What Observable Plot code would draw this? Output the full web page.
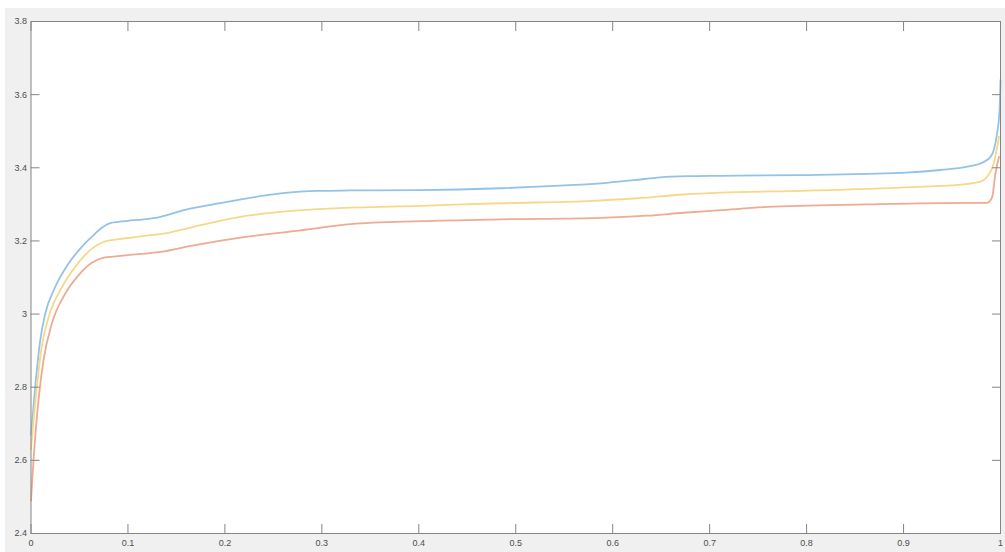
<!DOCTYPE html>
<html>
<head>
<meta charset="utf-8">
<script src="https://cdn.jsdelivr.net/npm/d3@7"></script>
<script src="https://cdn.jsdelivr.net/npm/@observablehq/plot@0.6"></script>
<style>
  html, body { margin: 0; padding: 0; background: #ffffff; }
  #chart { position: absolute; left: 5px; top: 8px; }
</style>
</head>
<body>
<div id="chart"></div>
<script>
// ---- data ----
const blueX = [0, 0.0043, 0.0095, 0.0146, 0.025, 0.0387, 0.0524, 0.0662, 0.072, 0.077, 0.082, 0.09, 0.1, 0.1164, 0.1336, 0.1576, 0.2024, 0.2574, 0.295, 0.33, 0.4018, 0.4843, 0.56, 0.594, 0.6218, 0.649, 0.677, 0.711, 0.7937, 0.8968, 0.938, 0.9657, 0.9827, 0.9897, 0.993, 0.9965, 0.999, 1.0];
const blueY = [2.67, 2.80, 2.928, 3.0, 3.074, 3.138, 3.184, 3.22, 3.234, 3.243, 3.249, 3.252, 3.255, 3.259, 3.266, 3.284, 3.307, 3.330, 3.337, 3.338, 3.339, 3.344, 3.353, 3.359, 3.366, 3.374, 3.377, 3.378, 3.380, 3.386, 3.394, 3.403, 3.416, 3.43, 3.448, 3.494, 3.558, 3.64];

const yellowX = [0, 0.006, 0.011, 0.018, 0.032, 0.0456, 0.059, 0.066, 0.073, 0.078, 0.085, 0.1, 0.1233, 0.137, 0.175, 0.216, 0.2608, 0.3123, 0.4018, 0.4843, 0.5737, 0.6218, 0.6733, 0.711, 0.7937, 0.8968, 0.959, 0.979, 0.986, 0.993, 0.9985];
const yellowY = [2.63, 2.80, 2.91, 2.99, 3.074, 3.129, 3.17, 3.185, 3.195, 3.200, 3.203, 3.208, 3.216, 3.22, 3.243, 3.266, 3.28, 3.289, 3.296, 3.303, 3.309, 3.316, 3.327, 3.332, 3.337, 3.346, 3.354, 3.362, 3.375, 3.412, 3.485];

const orangeX = [0, 0.0026, 0.0077, 0.0129, 0.0215, 0.0353, 0.049, 0.0627, 0.07, 0.0765, 0.085, 0.1, 0.1336, 0.168, 0.216, 0.278, 0.3296, 0.4018, 0.4843, 0.5874, 0.6356, 0.6733, 0.711, 0.7594, 0.8625, 0.9657, 0.986, 0.9914, 0.9948, 0.9985];
const orangeY = [2.49, 2.60, 2.764, 2.874, 2.974, 3.056, 3.106, 3.14, 3.150, 3.155, 3.157, 3.161, 3.17, 3.188, 3.209, 3.229, 3.246, 3.254, 3.259, 3.263, 3.269, 3.277, 3.284, 3.293, 3.30, 3.304, 3.304, 3.32, 3.385, 3.43];

const xTicks = [0, 0.1, 0.2, 0.3, 0.4, 0.5, 0.6, 0.7, 0.8, 0.9, 1];
const xTickLabels = ["0", "0.1", "0.2", "0.3", "0.4", "0.5", "0.6", "0.7", "0.8", "0.9", "1"];
const yTicks = [2.4, 2.6, 2.8, 3, 3.2, 3.4, 3.6, 3.8];
const yTickLabels = ["2.4", "2.6", "2.8", "3", "3.2", "3.4", "3.6", "3.8"];

const seriesNames = ["Series 1", "Series 2", "Series 3"];
const seriesColors = ["#92c3e6", "#f7d88a", "#eeaa92"];

// ---- build table ----
const seriesX = [blueX, yellowX, orangeX];
const seriesY = [blueY, yellowY, orangeY];
const rows = [];
seriesNames.forEach((name, s) => {
  seriesX[s].forEach((x, i) => rows.push({series: name, x, y: seriesY[s][i]}));
});

const axisGray = "#858585";
const textGray = "#4d4d4d";
const xLabel = new Map(xTicks.map((t, i) => [t, xTickLabels[i]]));
const yLabel = new Map(yTicks.map((t, i) => [t, yTickLabels[i]]));

const chart = Plot.plot({
  width: 1000,
  height: 544,
  marginLeft: 25.5,
  marginRight: 5,
  marginTop: 13,
  marginBottom: 19,
  style: {background: "#f0f0f0", color: textGray, fontFamily: "'Liberation Sans', Arial, sans-serif", fontSize: "9px"},
  x: {domain: [0, 1], axis: null},
  y: {domain: [2.4, 3.8], axis: null},
  color: {domain: seriesNames, range: seriesColors},
  marks: [
    Plot.frame({fill: "white", stroke: null}),
    Plot.line(rows, {x: "x", y: "y", z: "series", stroke: "series", strokeWidth: 1.8, curve: "monotone-x"}),
    Plot.frame({stroke: axisGray}),
    Plot.axisX({anchor: "bottom", ticks: xTicks, tickSize: -9, tickPadding: 15, stroke: axisGray, fill: textGray,
      label: null, tickFormat: d => xLabel.get(d)}),
    Plot.axisX({anchor: "top", ticks: xTicks, tickSize: -9, stroke: axisGray, label: null, tickFormat: () => ""}),
    Plot.axisY({anchor: "left", ticks: yTicks, tickSize: -9, tickPadding: 13, stroke: axisGray, fill: textGray,
      label: null, tickFormat: d => yLabel.get(d)}),
    Plot.axisY({anchor: "right", ticks: yTicks, tickSize: -9, stroke: axisGray, label: null, tickFormat: () => ""})
  ]
});
document.getElementById("chart").appendChild(chart);
</script>
</body>
</html>
